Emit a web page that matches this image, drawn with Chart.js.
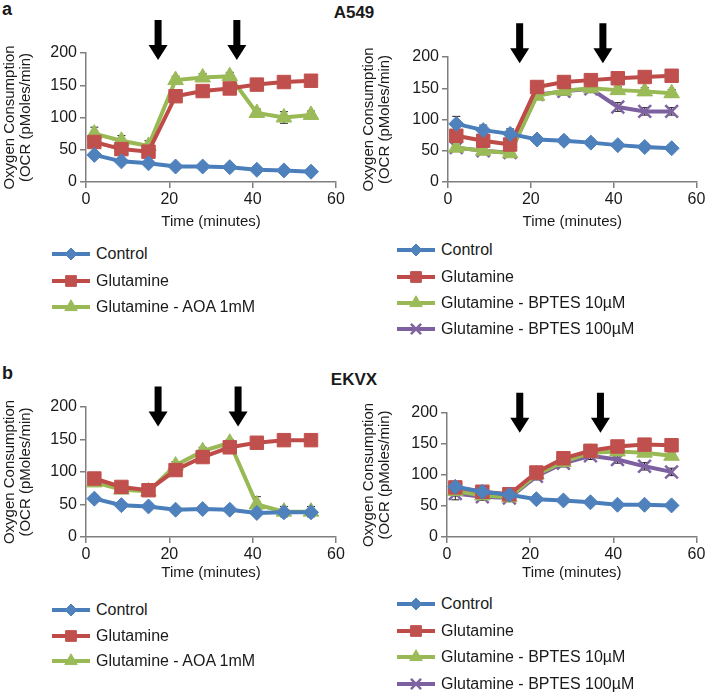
<!DOCTYPE html>
<html>
<head>
<meta charset="utf-8">
<script src="https://cdn.jsdelivr.net/npm/chart.js@4/dist/chart.umd.min.js"></script>
<style>
  body { margin:0; width:708px; height:695px; position:relative; background:#fff; overflow:hidden;
         font-family:"Liberation Sans", Arial, sans-serif; color:#1a1a1a; }
  .box { position:absolute; }
  .tag { position:absolute; font-weight:bold; line-height:1; }
  .row { position:absolute; display:flex; align-items:center; height:20px; white-space:nowrap; font-size:16px; }
  .row span { margin-left:5px; }
</style>
</head>
<body>
<div class="tag" style="left:2px;top:0px;font-size:18px">a</div>
<div class="tag" style="left:0;width:708px;top:4px;font-size:17px;text-align:center">A549</div>
<div class="tag" style="left:2px;top:364px;font-size:18px">b</div>
<div class="tag" style="left:0;width:708px;top:371px;font-size:17px;text-align:center">EKVX</div>

<div class="box" style="left:0;top:15px;width:354px;height:220px"><canvas id="aLeft"></canvas></div>
<div class="box" style="left:354px;top:15px;width:354px;height:220px"><canvas id="aRight"></canvas></div>
<div class="box" style="left:0;top:370px;width:354px;height:216px"><canvas id="bLeft"></canvas></div>
<div class="box" style="left:354px;top:370px;width:354px;height:216px"><canvas id="bRight"></canvas></div>
<div id="legends"></div>

<script>
// ---- data (OCR, pMoles/min) ----
const times = [2, 8.5, 15, 21.5, 28, 34.5, 41, 47.5, 54];

// A549
const a549Control   = [42, 32, 29, 24, 24, 23, 19, 18, 16];
const a549Glut      = [62, 51, 47, 133, 141, 145, 151, 155, 157];
const a549Aoa       = [75, 64, 56, 158, 162, 164, 107, 100, 104];
const a549Control2  = [93, 83, 77, 68, 66, 63, 59, 56, 54];
const a549Glut2     = [74, 66, 60, 152, 160, 163, 166, 168, 170];
const a549Bptes10   = [55, 50, 46, 138, 146, 150, 147, 145, 142];
const a549Bptes100  = [55, 50, 47, 140, 145, 149, 120, 113, 113];

// EKVX
const ekvxControl   = [59, 49, 47, 42, 43, 42, 37, 38, 38];
const ekvxGlut      = [90, 77, 72, 103, 123, 138, 145, 149, 149];
const ekvxAoa       = [84, 73, 70, 110, 132, 145, 50, 39, 39];
const ekvxControl2  = [81, 73, 68, 61, 59, 56, 52, 52, 51];
const ekvxGlut2     = [80, 73, 69, 104, 127, 139, 146, 149, 148];
const ekvxBptes10   = [74, 67, 64, 101, 121, 136, 138, 136, 131];
const ekvxBptes100  = [70, 65, 63, 98, 119, 131, 125, 114, 105];

// error bars (+/-)
const a549ControlErr  = [4, 3, 3, 3, 3, 3, 3, 3, 3];
const a549GlutErr     = [6, 6, 6, 7, 6, 6, 5, 5, 5];
const a549AoaErr      = [10, 8, 8, 6, 6, 6, 6, 9, 6];
const a549Control2Err = [12, 8, 8, 6, 6, 6, 5, 5, 5];
const a549Glut2Err    = [8, 6, 6, 6, 6, 6, 6, 6, 6];
const a549Bptes10Err  = [6, 5, 5, 6, 6, 6, 6, 6, 6];
const a549Bptes100Err = [6, 5, 5, 6, 6, 6, 7, 6, 6];
const ekvxControlErr  = [5, 4, 4, 4, 4, 4, 4, 4, 4];
const ekvxGlutErr     = [6, 6, 6, 6, 6, 6, 5, 5, 5];
const ekvxAoaErr      = [6, 5, 5, 6, 6, 5, 12, 8, 8];
const ekvxControl2Err = [5, 4, 4, 4, 4, 4, 4, 4, 4];
const ekvxGlut2Err    = [6, 6, 6, 6, 6, 6, 6, 6, 6];
const ekvxBptes10Err  = [8, 6, 6, 6, 6, 6, 6, 6, 6];
const ekvxBptes100Err = [10, 6, 6, 6, 6, 6, 6, 6, 6];

// injection arrows (minutes) and the OCR value the arrow tip points at
const a549ArrowTimes  = [17.3, 36.2];
const a549ArrowTimes2 = [17.3, 37.4];
const ekvxArrowTimes  = [17.3, 36.5];
const ekvxArrowTimes2 = [17.5, 36.9];

const yTicks = [0, 50, 100, 150, 200];
const xTicks = [0, 20, 40, 60];

// ---- styles per series ----
const series = {
  control: { color: "#4A7EBB", fill: "#4F81BD", pointStyle: "rectRot",  radius: 7.5 },
  glut:    { color: "#BE4B48", fill: "#C0504D", pointStyle: "rect",     radius: 9.5 },
  aoa:     { color: "#98B954", fill: "#9BBB59", pointStyle: "triangle", radius: 9 },
  b10:     { color: "#98B954", fill: "#9BBB59", pointStyle: "triangle", radius: 9 },
  b100:    { color: "#7D60A0", fill: "#8064A2", pointStyle: "crossRot", radius: 9 }
};

function ds(label, key, values, errs) {
  const s = series[key];
  return {
    label,
    data: times.map((t, i) => ({ x: t, y: values[i] })),
    errs,
    borderColor: s.color,
    backgroundColor: s.fill,
    borderWidth: 4,
    pointStyle: s.pointStyle,
    pointRadius: s.radius,
    pointHoverRadius: s.radius,
    pointBackgroundColor: s.fill,
    pointBorderColor: s.fill,
    pointBorderWidth: key === "b100" ? 2.5 : 1,
    tension: 0
  };
}

// --- error bar plugin ---
const errorBars = {
  id: "errorBars",
  beforeDatasetsDraw(chart) {
    const ctx = chart.ctx, y = chart.scales.y;
    ctx.save();
    ctx.strokeStyle = "#222";
    ctx.lineWidth = 1;
    chart.data.datasets.forEach((d, di) => {
      const meta = chart.getDatasetMeta(di);
      meta.data.forEach((pt, i) => {
        const v = d.data[i].y, e = d.errs[i];
        const top = y.getPixelForValue(v + e), bot = y.getPixelForValue(v - e);
        ctx.beginPath();
        ctx.moveTo(pt.x, top); ctx.lineTo(pt.x, bot);
        ctx.moveTo(pt.x - 4, top); ctx.lineTo(pt.x + 4, top);
        ctx.moveTo(pt.x - 4, bot); ctx.lineTo(pt.x + 4, bot);
        ctx.stroke();
      });
    });
    ctx.restore();
  }
};

// --- arrow plugin ---
const arrows = {
  id: "arrows",
  afterDraw(chart, args, opts) {
    const ctx = chart.ctx;
    const tipY = chart.scales.y.getPixelForValue(opts.tip);
    ctx.save();
    ctx.fillStyle = "#000";
    opts.times.forEach(t => {
      const x = chart.scales.x.getPixelForValue(t);
      ctx.beginPath();
      ctx.moveTo(x - 3.5, tipY - 40);
      ctx.lineTo(x + 3.5, tipY - 40);
      ctx.lineTo(x + 3.5, tipY - 15);
      ctx.lineTo(x + 9.5, tipY - 15);
      ctx.lineTo(x, tipY);
      ctx.lineTo(x - 9.5, tipY - 15);
      ctx.lineTo(x - 3.5, tipY - 15);
      ctx.closePath();
      ctx.fill();
    });
    ctx.restore();
  }
};

function makePanel(id, datasets, arrowTimes, tip, pad, yWidth, xHeight) {
  const axisColor = "#7f7f7f";
  const tickFont = { family: "Liberation Sans", size: 16 };
  return new Chart(document.getElementById(id), {
    type: "line",
    data: { datasets },
    plugins: [errorBars, arrows],
    options: {
      responsive: true,
      maintainAspectRatio: false,
      animation: false,
      layout: { padding: pad },
      plugins: {
        legend: { display: false },
        tooltip: { enabled: false },
        arrows: { times: arrowTimes, tip }
      },
      scales: {
        x: {
          type: "linear", min: 0, max: 60,
          afterBuildTicks: s => { s.ticks = xTicks.map(v => ({ value: v })); },
          afterFit: s => { s.height = xHeight; },
          grid: { drawOnChartArea: false, drawTicks: true, tickLength: 6, color: axisColor, lineWidth: 1.5 },
          border: { color: axisColor, width: 1.5 },
          ticks: { font: tickFont, color: "#1a1a1a", padding: 2, maxRotation: 0 },
          title: { display: true, text: "Time (minutes)", color: "#1a1a1a",
                   font: { family: "Liberation Sans", size: 15 }, padding: { top: 2, bottom: 4 } }
        },
        y: {
          min: 0, max: 200,
          afterBuildTicks: s => { s.ticks = yTicks.map(v => ({ value: v })); },
          afterFit: s => { s.width = yWidth; },
          grid: { drawOnChartArea: false, drawTicks: true, tickLength: 6, color: axisColor, lineWidth: 1.5 },
          border: { color: axisColor, width: 1.5 },
          ticks: { font: tickFont, color: "#1a1a1a", padding: 3 },
          title: { display: true, text: ["Oxygen Consumption", "(OCR (pMoles/min)"], color: "#1a1a1a",
                   font: { family: "Liberation Sans", size: 15, lineHeight: 1.05 }, padding: { top: 1, bottom: 0 } }
        }
      }
    }
  });
}

const chartA1 = makePanel("aLeft", [
  ds("Control", "control", a549Control, a549ControlErr),
  ds("Glutamine", "glut", a549Glut, a549GlutErr),
  ds("Glutamine - AOA 1mM", "aoa", a549Aoa, a549AoaErr)
], a549ArrowTimes, 189, { left: 1, right: 18, top: 38, bottom: 0 }, 85, 53);

const chartA2 = makePanel("aRight", [
  ds("Control", "control", a549Control2, a549Control2Err),
  ds("Glutamine", "glut", a549Glut2, a549Glut2Err),
  ds("Glutamine - BPTES 10\u00b5M", "b10", a549Bptes10, a549Bptes10Err),
  ds("Glutamine - BPTES 100\u00b5M", "b100", a549Bptes100, a549Bptes100Err)
], a549ArrowTimes2, 190, { left: 6, right: 11, top: 42, bottom: 0 }, 88, 53);

const chartB1 = makePanel("bLeft", [
  ds("Control", "control", ekvxControl, ekvxControlErr),
  ds("Glutamine", "glut", ekvxGlut, ekvxGlutErr),
  ds("Glutamine - AOA 1mM", "aoa", ekvxAoa, ekvxAoaErr)
], ekvxArrowTimes, 170, { left: 1, right: 18, top: 37, bottom: 0 }, 85, 49);

const chartB2 = makePanel("bRight", [
  ds("Control", "control", ekvxControl2, ekvxControl2Err),
  ds("Glutamine", "glut", ekvxGlut2, ekvxGlut2Err),
  ds("Glutamine - BPTES 10\u00b5M", "b10", ekvxBptes10, ekvxBptes10Err),
  ds("Glutamine - BPTES 100\u00b5M", "b100", ekvxBptes100, ekvxBptes100Err)
], ekvxArrowTimes2, 168, { left: 6, right: 11, top: 43, bottom: 0 }, 87, 49);

// --- legends (line + marker, like the Excel originals) ---
function buildLegend(chart, left, rowsY) {
  const holder = document.getElementById("legends");
  chart.data.datasets.forEach((d, i) => {
    const row = document.createElement("div");
    row.className = "row";
    row.style.left = left + "px";
    row.style.top = (rowsY[i] - 10) + "px";
    const c = document.createElement("canvas");
    c.width = 40; c.height = 20;
    const ctx = c.getContext("2d");
    ctx.strokeStyle = d.borderColor;
    ctx.lineWidth = 4;
    ctx.beginPath(); ctx.moveTo(1, 10); ctx.lineTo(39, 10); ctx.stroke();
    ctx.fillStyle = d.pointBackgroundColor;
    ctx.strokeStyle = d.pointBorderColor;
    ctx.lineWidth = d.pointBorderWidth;
    Chart.helpers.drawPoint(ctx, { pointStyle: d.pointStyle, radius: d.pointRadius * 0.8, rotation: 0, borderWidth: d.pointBorderWidth }, 20, 10);
    row.appendChild(c);
    const s = document.createElement("span");
    s.textContent = d.label;
    row.appendChild(s);
    holder.appendChild(row);
  });
}
buildLegend(chartA1, 51, [254, 281, 307]);
buildLegend(chartA2, 396, [250, 277, 303, 329]);
buildLegend(chartB1, 51, [610, 636, 661]);
buildLegend(chartB2, 396, [604, 631, 657, 684]);
</script>
</body>
</html>
